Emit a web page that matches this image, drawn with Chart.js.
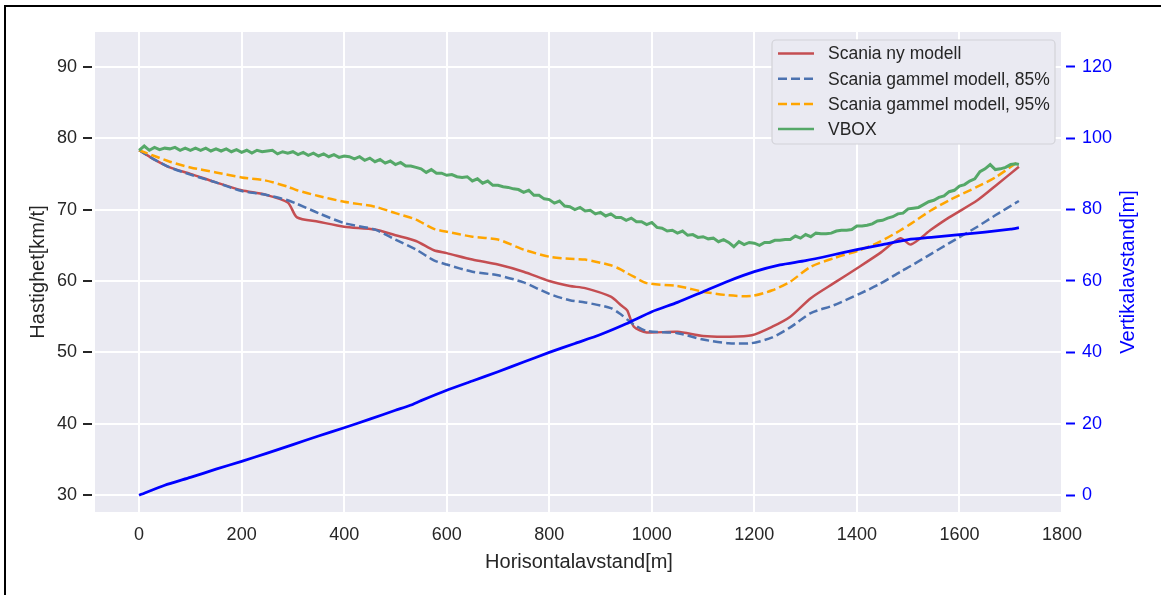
<!DOCTYPE html>
<html lang="no">
<head>
<meta charset="UTF-8">
<title>Hastighet og vertikalavstand</title>
<script src="https://cdn.jsdelivr.net/npm/chart.js@4.4.1/dist/chart.umd.min.js"></script>
<style>
  html, body { margin: 0; padding: 0; background: #fff; }
  #wrap { width: 1161px; height: 595px; }
</style>
</head>
<body>
<div id="wrap"><canvas id="chart" width="1161" height="595"></canvas></div>
<script>
// avstand (m) for modellkurvene
var avstand = [0, 30, 60, 100, 150, 200, 245, 290, 308, 350, 400, 460, 500, 540, 575, 600, 650, 700, 750, 800,
  840, 870, 920, 940, 952, 965, 990, 1050, 1100, 1150, 1195, 1235, 1270, 1310, 1355, 1405, 1445, 1485, 1505,
  1545, 1580, 1635, 1670, 1716];

var scaniaNy = [78.3, 77.0, 75.9, 75.0, 73.8, 72.7, 72.1, 71.0, 68.9, 68.3, 67.6, 67.2, 66.4, 65.6, 64.3, 63.9, 63.0, 62.3, 61.3, 60.0,
  59.3, 59.0, 57.8, 56.6, 55.9, 53.6, 52.8, 52.9, 52.3, 52.2, 52.4, 53.6, 55.0, 57.6, 59.7, 62.0, 63.9, 66.0, 65.1,
  67.2, 68.9, 71.3, 73.3, 76.0];

var scania85 = [78.3, 77.0, 75.9, 74.9, 73.8, 72.6, 72.1, 71.3, 70.8, 69.5, 68.1, 67.2, 65.8, 64.4, 62.9, 62.3, 61.3, 60.8, 59.8, 58.2,
  57.3, 57.0, 56.2, 55.3, 54.6, 53.9, 53.0, 52.7, 51.8, 51.3, 51.3, 52.1, 53.5, 55.5, 56.6, 58.2, 59.6, 61.3, 62.1,
  63.8, 65.3, 67.6, 69.2, 71.2];

var scania95 = [78.3, 77.5, 76.7, 75.9, 75.2, 74.5, 74.1, 73.2, 72.7, 71.9, 71.1, 70.4, 69.5, 68.6, 67.3, 66.9, 66.2, 65.8, 64.4, 63.4,
  63.1, 63.0, 62.2, 61.6, 61.1, 60.6, 59.7, 59.3, 58.5, 58.0, 57.9, 58.7, 59.9, 62.0, 63.2, 64.3, 65.5, 67.1, 68.0,
  69.9, 71.3, 73.2, 74.5, 76.8];

// VBOX-logg, hver 10 m
var vboxAvstand = [
  0, 10, 20, 30, 40, 50, 60, 70, 80, 90,
  100, 110, 120, 130, 140, 150, 160, 170, 180, 190,
  200, 210, 220, 230, 240, 250, 260, 270, 280, 290,
  300, 310, 320, 330, 340, 350, 360, 370, 380, 390,
  400, 410, 420, 430, 440, 450, 460, 470, 480, 490,
  500, 510, 520, 530, 540, 550, 560, 570, 580, 590,
  600, 610, 620, 630, 640, 650, 660, 670, 680, 690,
  700, 710, 720, 730, 740, 750, 760, 770, 780, 790,
  800, 810, 820, 830, 840, 850, 860, 870, 880, 890,
  900, 910, 920, 930, 940, 950, 960, 970, 980, 990,
  1000, 1010, 1020, 1030, 1040, 1050, 1060, 1070, 1080, 1090,
  1100, 1110, 1120, 1130, 1140, 1150, 1160, 1170, 1180, 1190,
  1200, 1210, 1220, 1230, 1240, 1250, 1260, 1270, 1280, 1290,
  1300, 1310, 1320, 1330, 1340, 1350, 1360, 1370, 1380, 1390,
  1400, 1410, 1420, 1430, 1440, 1450, 1460, 1470, 1480, 1490,
  1500, 1510, 1520, 1530, 1540, 1550, 1560, 1570, 1580, 1590,
  1600, 1610, 1620, 1630, 1640, 1650, 1660, 1670, 1680, 1690,
  1700, 1710, 1716];

var vbox = [
  78.3, 78.9, 78.3, 78.7, 78.4, 78.6, 78.5, 78.7, 78.3, 78.6,
  78.3, 78.6, 78.3, 78.6, 78.2, 78.5, 78.2, 78.5, 78.1, 78.4,
  78.0, 78.3, 77.9, 78.3, 78.1, 78.2, 78.3, 77.8, 78.1, 77.9,
  78.1, 77.7, 78.0, 77.6, 77.9, 77.5, 77.8, 77.4, 77.7, 77.3,
  77.5, 77.4, 77.1, 77.4, 76.9, 77.2, 76.7, 77.0, 76.5, 76.8,
  76.3, 76.6, 76.1, 76.1, 75.9, 75.7, 75.2, 75.6, 75.1, 75.1,
  74.8, 74.9, 74.6, 74.5, 74.6, 74.0, 74.3, 73.7, 74.0, 73.4,
  73.4, 73.2, 73.1, 72.9, 72.8, 72.4, 72.7, 72.0, 72.0, 71.5,
  71.4, 70.9, 71.2, 70.5, 70.4, 70.0, 70.3, 69.8, 69.9, 69.4,
  69.6, 69.1, 69.4, 68.9, 68.9, 68.5, 68.8, 68.3, 68.3, 67.9,
  68.2, 67.5, 67.4, 67.0, 67.1, 66.7, 67.0, 66.4, 66.5, 66.1,
  66.2, 65.9, 66.0, 65.5, 65.8, 65.4, 64.8, 65.5, 65.1, 65.4,
  65.3, 65.0, 65.4, 65.4, 65.7, 65.7, 65.8, 65.8, 66.3, 66.0,
  66.5, 66.2, 66.7, 66.6, 66.6, 66.7, 67.0, 67.1, 67.1, 67.2,
  67.7, 67.7, 67.8, 68.0, 68.4, 68.5, 68.8, 69.0, 69.4, 69.5,
  70.1, 70.2, 70.3, 70.7, 71.1, 71.3, 71.7, 71.9, 72.5, 72.7,
  73.3, 73.5, 74.0, 74.3, 75.3, 75.7, 76.3, 75.6, 75.7, 75.9,
  76.3, 76.4, 76.3];

// vertikalavstand (m), hoyre akse
var vertAvstand = [0, 50, 100, 150, 200, 250, 300, 350, 400, 450, 500, 529, 550, 600, 650, 700, 750, 800, 850,
  900, 950, 1000, 1050, 1100, 1150, 1200, 1250, 1300, 1350, 1400, 1450, 1500, 1550, 1600, 1650, 1700, 1716];
var vertikal = [0, 2.8, 5.0, 7.3, 9.5, 11.8, 14.2, 16.6, 18.9, 21.3, 23.8, 25.2, 26.5, 29.4, 32.0, 34.6, 37.3, 40.0, 42.5,
  45.0, 48.0, 51.4, 54.0, 57.0, 60.0, 62.6, 64.5, 65.7, 67.2, 68.8, 70.2, 71.6, 72.3, 73.0, 73.7, 74.5, 74.9];

var xTicks = [0, 200, 400, 600, 800, 1000, 1200, 1400, 1600, 1800];
var leftTicks = [30, 40, 50, 60, 70, 80, 90];
var rightTicks = [0, 20, 40, 60, 80, 100, 120];

var FONT = "'Liberation Sans', Arial, sans-serif";
var TXT = '#262626';

function pts(xs, ys) {
  return xs.map(function (x, i) { return { x: x, y: ys[i] }; });
}

// bakgrunn for plottet og ramme rundt figuren
var plotBg = {
  id: 'plotBg',
  beforeDraw: function (chart) {
    var ctx = chart.ctx, a = chart.chartArea;
    ctx.save();
    ctx.fillStyle = '#eaeaf2';
    ctx.fillRect(a.left, a.top, a.right - a.left, a.bottom - a.top);
    ctx.strokeStyle = '#000';
    ctx.lineWidth = 2;
    ctx.beginPath();
    ctx.moveTo(5, 640);
    ctx.lineTo(5, 6);
    ctx.lineTo(1200, 6);
    ctx.stroke();
    ctx.restore();
  }
};

// legende inne i plottet, oppe til hoyre
var boxLegend = {
  id: 'boxLegend',
  afterDatasetsDraw: function (chart) {
    var ctx = chart.ctx, a = chart.chartArea;
    var items = chart.data.datasets.filter(function (d) { return d.inLegend; });
    var w = 283, h = 104, r = 4;
    var x0 = a.right - 8 - w, y0 = a.top + 8;
    ctx.save();
    ctx.beginPath();
    ctx.moveTo(x0 + r, y0);
    ctx.arcTo(x0 + w, y0, x0 + w, y0 + h, r);
    ctx.arcTo(x0 + w, y0 + h, x0, y0 + h, r);
    ctx.arcTo(x0, y0 + h, x0, y0, r);
    ctx.arcTo(x0, y0, x0 + w, y0, r);
    ctx.closePath();
    ctx.fillStyle = '#eaeaf2';
    ctx.fill();
    ctx.strokeStyle = '#d2d2d8';
    ctx.lineWidth = 1.2;
    ctx.stroke();
    ctx.font = '17.5px ' + FONT;
    ctx.textBaseline = 'middle';
    items.forEach(function (d, i) {
      var cy = y0 + 13.5 + i * 25.2;
      ctx.strokeStyle = d.borderColor;
      ctx.lineWidth = Math.min(d.borderWidth, 2.5);
      ctx.setLineDash(d.borderDash || []);
      ctx.beginPath();
      ctx.moveTo(x0 + 6, cy);
      ctx.lineTo(x0 + 42, cy);
      ctx.stroke();
      ctx.setLineDash([]);
      ctx.fillStyle = TXT;
      ctx.fillText(d.label, x0 + 56, cy + 1);
    });
    ctx.restore();
  }
};

// tittel paa hoyre akse, lest nedenfra og opp
var rightTitle = {
  id: 'rightTitle',
  afterDraw: function (chart) {
    var ctx = chart.ctx, a = chart.chartArea;
    ctx.save();
    ctx.translate(1128, (a.top + a.bottom) / 2);
    ctx.rotate(-Math.PI / 2);
    ctx.font = '20px ' + FONT;
    ctx.fillStyle = '#0000ff';
    ctx.textAlign = 'center';
    ctx.textBaseline = 'middle';
    ctx.fillText('Vertikalavstand[m]', 0, 0);
    ctx.restore();
  }
};

new Chart(document.getElementById('chart'), {
  type: 'line',
  data: {
    datasets: [
      { label: 'Scania ny modell', inLegend: true, data: pts(avstand, scaniaNy), yAxisID: 'y',
        borderColor: '#c44e52', borderWidth: 2.5, tension: 0.25, order: 4 },
      { label: 'Scania gammel modell, 85%', inLegend: true, data: pts(avstand, scania85), yAxisID: 'y',
        borderColor: '#4c72b0', borderWidth: 2.5, borderDash: [9, 4], tension: 0.25, order: 3 },
      { label: 'Scania gammel modell, 95%', inLegend: true, data: pts(avstand, scania95), yAxisID: 'y',
        borderColor: '#ffa500', borderWidth: 2.5, borderDash: [9, 4], tension: 0.25, order: 2 },
      { label: 'VBOX', inLegend: true, data: pts(vboxAvstand, vbox), yAxisID: 'y',
        borderColor: '#55a868', borderWidth: 3, tension: 0, order: 1 },
      { label: 'Vertikalavstand', inLegend: false, data: pts(vertAvstand, vertikal), yAxisID: 'y1',
        borderColor: '#0000ff', borderWidth: 2.8, tension: 0.2, order: 0 }
    ]
  },
  options: {
    responsive: false,
    animation: false,
    devicePixelRatio: 1,
    events: [],
    elements: { point: { radius: 0 } },
    layout: { padding: { top: 32, left: 0, right: 0, bottom: 0 } },
    plugins: { legend: { display: false }, tooltip: { enabled: false } },
    scales: {
      x: {
        type: 'linear', min: -86, max: 1802,
        afterBuildTicks: function (s) { s.ticks = xTicks.map(function (v) { return { value: v }; }); },
        afterFit: function (s) { s.height = 83; },
        grid: { color: '#ffffff', lineWidth: 2, drawTicks: false },
        border: { display: false },
        ticks: { color: TXT, font: { family: FONT, size: 18 }, padding: 12, maxRotation: 0, autoSkip: false,
          callback: function (v) { return String(v); } },
        title: { display: true, text: 'Horisontalavstand[m]', color: TXT, font: { family: FONT, size: 20 },
          padding: { top: 0, bottom: 21 } }
      },
      y: {
        position: 'left', min: 27.66, max: 94.86,
        afterBuildTicks: function (s) { s.ticks = leftTicks.map(function (v) { return { value: v }; }); },
        afterFit: function (s) { s.width = 95; },
        grid: { color: '#ffffff', lineWidth: 2, tickColor: TXT, tickLength: 12, tickWidth: 2, tickBorderDash: [9, 100] },
        border: { display: false },
        ticks: { color: TXT, font: { family: FONT, size: 18 }, padding: 6 },
        title: { display: true, text: 'Hastighet[km/t]', color: TXT, font: { family: FONT, size: 20 },
          padding: { top: 26, bottom: 0 } }
      },
      y1: {
        position: 'right', min: -4.68, max: 129.7,
        afterBuildTicks: function (s) { s.ticks = rightTicks.map(function (v) { return { value: v }; }); },
        afterFit: function (s) { s.width = 98; },
        grid: { drawOnChartArea: false, tickColor: '#0000ff', tickLength: 12, tickWidth: 2,
          tickBorderDash: [9, 100], tickBorderDashOffset: 106 },
        border: { display: false },
        ticks: { color: '#0000ff', font: { family: FONT, size: 18 }, padding: 7 }
      }
    }
  },
  plugins: [plotBg, boxLegend, rightTitle]
});
</script>
</body>
</html>
